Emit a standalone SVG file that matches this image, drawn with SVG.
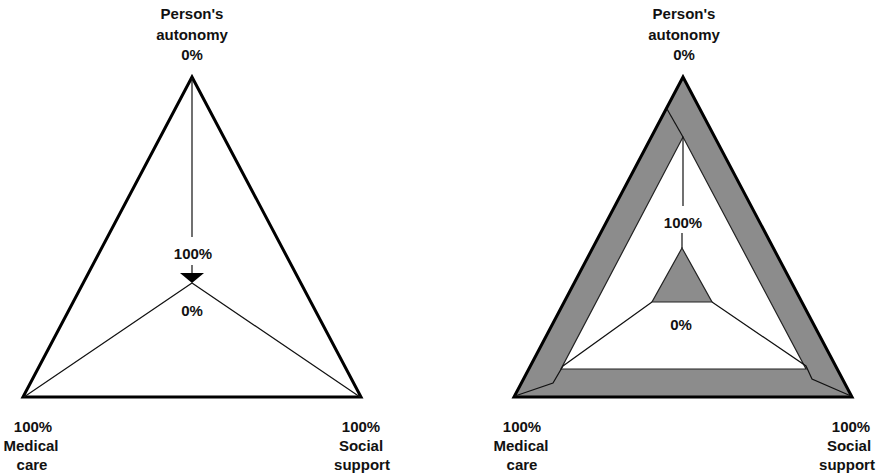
<svg xmlns="http://www.w3.org/2000/svg" width="877" height="476" viewBox="0 0 877 476">
<style>
.lbl{font-family:"Liberation Sans",Arial,sans-serif;font-weight:bold;font-size:15px;text-anchor:middle;fill:#111}
.outer{stroke:#000;stroke-width:3;stroke-linejoin:miter;stroke-miterlimit:10}
.thin{stroke:#111;stroke-width:1.2;fill:none}
</style>
<g id="left-triangle">
<polygon class="outer" points="192,77 23,397 361,397" fill="#fff"/>
</g>
<g id="right-triangle">
<polygon class="outer" points="683,77 514,397 852,397" fill="#8c8c8c"/>
<polygon points="683,137 806,369 561,369" fill="#fff" stroke="#222" stroke-width="1.2"/>
<polygon id="inner-small" points="682,248 712,302 652,302" fill="#8c8c8c" stroke="#222" stroke-width="1.2"/>
</g>
<g id="connectors">
<line class="thin" x1="192" y1="78" x2="192" y2="237"/>
<line class="thin" x1="192" y1="265" x2="192" y2="273"/>
<polygon points="180,273 204,273 192,283" fill="#000"/>
<polyline class="thin" points="24,397 192,283 360,397"/>
<line class="thin" x1="683" y1="137" x2="683" y2="206"/>
<line class="thin" x1="682" y1="233" x2="682" y2="248"/>
<line class="thin" x1="667" y1="109" x2="683" y2="137"/>
<polyline class="thin" points="652,302 563,366 553,383 515,396"/>
<polyline class="thin" points="712,302 806,366 812,379 851,396"/>
</g>
<g id="labels-left">
<text class="lbl" x="192" y="19">Person's</text>
<text class="lbl" x="192" y="40">autonomy</text>
<text class="lbl" x="192" y="60">0%</text>
<text class="lbl" x="193" y="259">100%</text>
<text class="lbl" x="192" y="316">0%</text>
<text class="lbl" x="33" y="432">100%</text>
<text class="lbl" x="31" y="451">Medical</text>
<text class="lbl" x="32" y="470">care</text>
<text class="lbl" x="361" y="432">100%</text>
<text class="lbl" x="361" y="451">Social</text>
<text class="lbl" x="362" y="470">support</text>
</g>
<g id="labels-right">
<text class="lbl" x="684" y="19">Person's</text>
<text class="lbl" x="684" y="40">autonomy</text>
<text class="lbl" x="684" y="60">0%</text>
<text class="lbl" x="683" y="228">100%</text>
<text class="lbl" x="681" y="330">0%</text>
<text class="lbl" x="522" y="432">100%</text>
<text class="lbl" x="521" y="451">Medical</text>
<text class="lbl" x="522" y="470">care</text>
<text class="lbl" x="851" y="432">100%</text>
<text class="lbl" x="849" y="451">Social</text>
<text class="lbl" x="847" y="470">support</text>
</g>
</svg>
